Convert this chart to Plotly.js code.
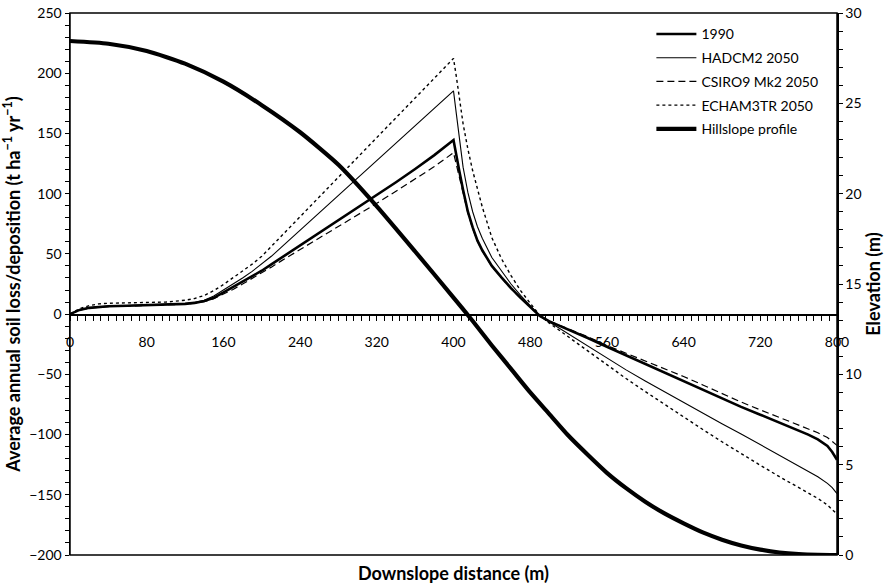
<!DOCTYPE html>
<html>
<head>
<meta charset="utf-8">
<script src="https://cdn.plot.ly/plotly-3.0.1.min.js"></script>
<style>
  html, body { margin: 0; padding: 0; background: #fff; }
  #chart { width: 889px; height: 585px; }
</style>
</head>
<body>
<div id="chart"></div>
<script>
// Downslope distance (m) at which the soil loss / deposition series are sampled
const distance = [0, 5, 10, 20, 30, 40, 60, 80, 100, 120, 130, 140, 150, 160, 170, 180, 190, 200, 210, 220,
  240, 260, 280, 300, 320, 340, 360, 380, 400, 403, 406, 410, 415, 420, 425, 430, 440, 450, 460, 470,
  480, 490, 500, 520, 540, 560, 580, 600, 620, 640, 660, 680, 700, 720, 740, 760, 770, 780, 790, 795, 800];

// Average annual soil loss (negative) / deposition (positive), t ha-1 yr-1
const loss1990 = [0, 2, 3.5, 5.2, 6, 6.5, 7, 7.4, 7.8, 8.5, 9.3, 10.8, 13.5, 18, 22.5, 27.5, 32, 36, 41.3, 46.5,
  57, 67.5, 78, 88.5, 99, 109.5, 120.5, 132, 144.5, 130.6, 119, 103, 85, 72, 61, 53, 40, 30.5, 21.5, 13.5,
  6, -1.5, -6, -12.8, -19.8, -27.1, -34.3, -41.5, -48.7, -55.8, -62.8, -69.8, -77, -83.5, -90, -96.5, -100, -104, -109.5, -114.5, -121];

const hadcm2 = [0, 2, 3.6, 5.3, 6.1, 6.6, 7.1, 7.5, 8, 8.8, 9.8, 11.5, 15, 20, 24.5, 30, 35.5, 41.5, 48, 55.2,
  69.7, 84.2, 98.7, 113.2, 127.6, 142, 156.5, 171, 185.4, 166, 146, 122, 101, 85, 72.5, 63, 47, 35.5, 25, 15.5,
  7, -1.5, -6.5, -16.5, -26.5, -36.8, -46.3, -55.5, -64.5, -73.5, -82.3, -91, -99.5, -108.5, -117.5, -126, -130.5, -135, -140.5, -144, -149];

const csiro9 = [0, 1.8, 3.3, 5, 5.8, 6.2, 6.7, 7.1, 7.5, 8.2, 9, 10.3, 12.8, 16.5, 20.5, 25, 29.5, 34, 39, 44,
  53.5, 63, 72.5, 82, 92, 102, 112, 122.5, 134, 124, 115.5, 101, 84, 71, 60.5, 52.5, 39.5, 30, 21, 13.2,
  6, -1.5, -5.8, -12, -18.8, -26, -32.5, -38.7, -45, -51.8, -58.8, -66, -73, -79.5, -86, -92, -95.5, -98.5, -102.5, -105.5, -109];

const echam3tr = [0, 2.5, 4.5, 7, 8.5, 9, 9.5, 9.7, 10, 11.5, 13, 15.5, 19.5, 24.5, 30, 35.5, 41.5, 48, 56.2, 64.6,
  81, 97.4, 113.8, 130.2, 146.6, 163, 179.5, 195.9, 212.3, 197, 180, 158, 137, 119, 104, 89, 63.5, 46, 32, 19.5,
  9, -1, -7.5, -19, -31, -42.5, -53.5, -64.3, -75, -85.5, -95.8, -106, -116, -125.5, -135, -144, -148.5, -153, -158.5, -162, -166];

// Hillslope profile: elevation (m) along the slope
const profileDistance = [0, 40, 80, 120, 160, 200, 240, 280, 320, 360, 400, 420, 440, 460, 480, 500, 520, 540,
  560, 580, 600, 620, 640, 660, 680, 700, 720, 740, 760, 780, 800];
const elevation = [28.45, 28.3, 27.9, 27.2, 26.2, 24.9, 23.4, 21.6, 19.3, 16.8, 14.25, 12.95, 11.6, 10.3, 9.0, 7.8, 6.6, 5.55,
  4.55, 3.7, 2.95, 2.3, 1.75, 1.25, 0.85, 0.53, 0.3, 0.14, 0.05, 0.01, 0];

const seriesNames = ['1990', 'HADCM2 2050', 'CSIRO9 Mk2 2050', 'ECHAM3TR 2050', 'Hillslope profile'];

const FONT = 'Lato, "Open Sans", sans-serif';
const INK = '#000';

const traces = [
  { x: distance, y: loss1990, name: seriesNames[0], legendgroup: 'a',
    line: { color: INK, width: 2.6 } },
  { x: distance, y: hadcm2, name: seriesNames[1], legendgroup: 'b',
    line: { color: INK, width: 1.1 } },
  { x: distance, y: csiro9, name: seriesNames[2], legendgroup: 'c',
    line: { color: INK, width: 1.2, dash: '7px,4px' } },
  { x: distance, y: echam3tr, name: seriesNames[3], legendgroup: 'd',
    line: { color: INK, width: 1.4, dash: '3px,3px' } },
  { x: profileDistance, y: elevation, name: seriesNames[4], legendgroup: 'e', yaxis: 'y2',
    line: { color: INK, width: 4.2, shape: 'spline', smoothing: 0.6 } }
].map(t => Object.assign({ type: 'scatter', mode: 'lines', hoverinfo: 'skip' }, t));

const layout = {
  width: 889, height: 585,
  margin: { l: 70, r: 52, t: 13, b: 30 },
  paper_bgcolor: '#fff', plot_bgcolor: '#fff',
  font: { family: FONT, size: 14, color: INK },
  showlegend: true,
  legend: {
    x: 0.758, y: 0.99, xanchor: 'left', yanchor: 'top',
    bgcolor: 'rgba(0,0,0,0)', borderwidth: 0,
    font: { family: FONT, size: 14, color: INK },
    tracegroupgap: 2.5, itemwidth: 40
  },
  xaxis: {
    range: [0, 800], dtick: 80, tick0: 0,
    anchor: 'free', position: 200 / 450,
    showline: true, linecolor: INK, linewidth: 1.5,
    ticks: 'outside', ticklen: 5, tickwidth: 1, tickcolor: INK,
    ticklabelstandoff: 10,
    minor: { dtick: 8, ticks: 'outside', ticklen: 5, tickwidth: 1, tickcolor: INK, showgrid: false },
    showgrid: false, zeroline: false,
    tickfont: { family: FONT, size: 14 }
  },
  yaxis: {
    range: [-200, 250], dtick: 50, tick0: 0,
    showline: true, linecolor: INK, linewidth: 1.5,
    ticks: 'outside', ticklen: 4, tickwidth: 1, tickcolor: INK,
    minor: { dtick: 10, ticks: 'outside', ticklen: 4, tickwidth: 1, tickcolor: INK, showgrid: false },
    showgrid: false, zeroline: false,
    tickfont: { family: FONT, size: 14 },
    title: { text: 'Average annual soil loss/deposition (t ha<sup>−1</sup> yr<sup>−1</sup>)',
      font: { family: FONT, size: 18, weight: 'bold' }, standoff: 6 }
  },
  yaxis2: {
    range: [0, 30], dtick: 5, tick0: 0,
    overlaying: 'y', side: 'right',
    showline: true, linecolor: INK, linewidth: 1.5,
    ticks: 'outside', ticklen: 4, tickwidth: 1, tickcolor: INK,
    minor: { dtick: 1, ticks: 'outside', ticklen: 4, tickwidth: 1, tickcolor: INK, showgrid: false },
    showgrid: false, zeroline: false,
    tickfont: { family: FONT, size: 14 },
    title: { text: 'Elevation (m)', font: { family: FONT, size: 18, weight: 'bold' }, standoff: 3 }
  },
  shapes: [
    { type: 'rect', xref: 'paper', yref: 'paper', x0: 0, x1: 1, y0: 0, y1: 1,
      line: { color: INK, width: 1.5 }, layer: 'above' }
  ],
  annotations: [
    { text: 'Downslope distance (m)', xref: 'paper', yref: 'paper', x: 0.5, y: 0,
      yshift: -18, xanchor: 'center', yanchor: 'middle', showarrow: false,
      font: { family: FONT, size: 18, weight: 'bold', color: INK } }
  ]
};

Plotly.newPlot('chart', traces, layout, { displayModeBar: false, staticPlot: true });
</script>
</body>
</html>
